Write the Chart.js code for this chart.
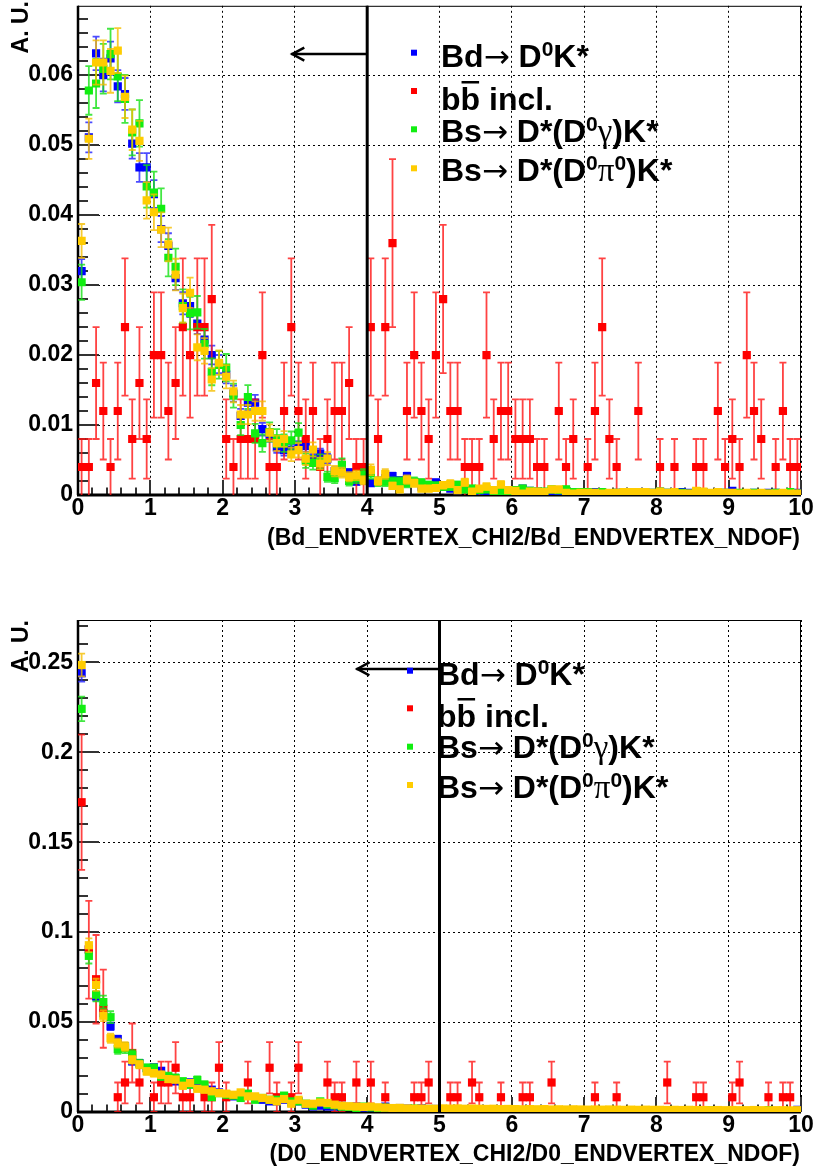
<!DOCTYPE html>
<html>
<head>
<meta charset="utf-8">
<script src="https://cdn.jsdelivr.net/npm/chart.js@4.4.1/dist/chart.umd.min.js"></script>
<style>
  html, body { margin: 0; padding: 0; background: #fff; }
  #wrap { position: relative; width: 815px; height: 1169px; }
  canvas { position: absolute; left: 0; }
</style>
</head>
<body>
<div id="wrap">
  <canvas id="vtxBd" width="815" height="584" style="top:0"></canvas>
  <canvas id="vtxD0" width="815" height="585" style="top:584px"></canvas>
</div>
<script>
// 100 bins of width 0.1 between 0 and 10
const BIN_W = 0.1;
const NBINS = 100;
const binCenters = Array.from({ length: NBINS }, (_, i) => +(BIN_W * (i + 0.5)).toFixed(2));

// Bd_ENDVERTEX_CHI2/NDOF, normalised
const bdChi2Bd = [
  .0320, .0511, .0631, .0600, .0624, .0584, .0573, .0502, .0468, .0468,
  .0430, .0380, .0356, .0310, .0274, .0270, .0245, .0222, .0200, .0187,
  .0172, .0145, .0113, .0132, .0132, .0094, .0085, .0068, .0064, .0065,
  .0069, .0070, .0052, .0059, .0052, .0034, .0033, .0032, .0019, .0021,
  .0017, .0019, .0024, .0027, .0021, .0027, .0018, .0012, .0013, .0018,
  .0012, .0009, .0007, .0009, .0007, .0006, .0006, .0005, .0006, .0005,
  .0005, .0009, .0006, .0005, .0004, .0005, .0006, .0003, .0003, .0004,
  .0004, .0004, .0003, .0002, .0003, .0004, .0003, .0004, .0003, .0003,
  .0005, .0003, .0002, .0004, .0003, .0003, .0004, .0002, .0003, .0003,
  .0006, .0002, .0002, .0003, .0002, .0003, .0003, .0002, .0002, .0003
];
const bdChi2Bb = [
  .004, .004, .016, .012, .004, .012, .024, .008, .016, .008,
  .020, .020, .012, .016, .024, .020, .024, .024, .028, 0,
  .008, .004, .008, .008, .008, .020, .004, .004, .012, .024,
  .012, .008, .012, .004, .008, .012, .012, .016, .004, .004,
  .024, .008, .024, .036, 0, .012, .020, .012, .008, .020,
  .028, .012, .012, .004, .004, .004, .020, .008, .012, .012,
  .008, .008, .008, .004, .004, 0, .012, .004, .008, 0,
  .004, .012, .024, .008, .004, 0, 0, .012, 0, 0,
  .004, 0, .004, 0, 0, .004, .004, 0, .012, .004,
  .008, .004, .020, .012, .008, 0, .004, .012, .004, .004
];
const bdChi2BsGam = [
  .0304, .0578, .0588, .0609, .0630, .0598, .0566, .0518, .0531, .0441,
  .0432, .0409, .0339, .0326, .0270, .0260, .0261, .0216, .0176, .0186,
  .0182, .0142, .0100, .0140, .0088, .0074, .0090, .0081, .0074, .0078,
  .0089, .0049, .0046, .0048, .0026, .0024, .0043, .0020, .0024, .0029,
  .0031, .0019, .0019, .0019, .0019, .0017, .0019, .0017, .0014, .0013,
  .0012, .0012, .0014, .0008, .0009, .0007, .0008, .0005, .0005, .0006,
  .0007, .0009, .0006, .0005, .0005, .0008, .0007, .0008, .0004, .0004,
  .0004, .0003, .0004, .0001, .0003, .0003, .0004, .0003, .0002, .0003,
  .0005, .0003, .0003, .0003, .0002, .0004, .0003, .0002, .0003, .0003,
  .0002, .0003, .0002, .0003, .0002, .0002, .0003, .0002, .0004, .0002
];
const bdChi2BsPi0 = [
  .0363, .0509, .0618, .0618, .0606, .0635, .0569, .0522, .0506, .0421,
  .0404, .0379, .0358, .0315, .0267, .0289, .0211, .0206, .0165, .0189,
  .0169, .0148, .0115, .0115, .0120, .0120, .0089, .0074, .0080, .0058,
  .0064, .0052, .0065, .0045, .0052, .0034, .0032, .0026, .0028, .0021,
  .0036, .0020, .0030, .0013, .0008, .0022, .0017, .0009, .0009, .0010,
  .0014, .0016, .0007, .0018, .0005, .0009, .0012, .0007, .0015, .0007,
  .0006, .0002, .0005, .0005, .0004, .0008, .0008, .0003, .0002, .0003,
  .0003, .0003, .0002, .0003, .0003, .0004, .0004, .0004, .0004, .0003,
  .0005, .0003, .0004, .0002, .0002, .0006, .0005, .0003, .0004, .0003,
  .0003, .0002, .0003, .0002, .0003, .0002, .0002, .0003, .0002, .0002
];

// D0_ENDVERTEX_CHI2/NDOF, normalised
const d0Chi2Bd = [
  .2439, .0905, .0643, .0550, .0476, .0405, .0364, .0281, .0272, .0244,
  .0248, .0229, .0180, .0170, .0152, .0165, .0142, .0128, .0124, .0109,
  .0096, .0087, .0087, .0096, .0078, .0068, .0059, .0059, .0068, .0053,
  .0059, .0041, .0031, .0035, .0031, .0031, .0035, .0028, .0030, .0024,
  .0026, .0022, .0030, .0020, .0022, .0019, .0016, .0020, .0015, .0017,
  .0015, .0014, .0013, .0014, .0012, .0011, .0013, .0010, .0011, .0010,
  .0009, .0010, .0009, .0010, .0008, .0009, .0008, .0009, .0008, .0007,
  .0008, .0007, .0008, .0007, .0006, .0007, .0006, .0007, .0006, .0006,
  .0006, .0005, .0006, .0005, .0005, .0006, .0005, .0004, .0005, .0004,
  .0005, .0004, .0004, .0005, .0004, .0004, .0004, .0003, .0004, .0012
];
const d0Chi2Bb = [
  .1722, .0902, .0738, .0574, 0, .0082, .0164, .0328, .0164, 0,
  .0082, .0164, .0164, .0246, .0082, .0082, 0, .0082, .0082, .0246,
  .0082, 0, 0, .0164, 0, 0, .0246, .0082, 0, .0082,
  .0246, 0, 0, 0, .0164, .0082, .0082, 0, .0164, 0,
  .0164, 0, .0082, 0, 0, 0, .0082, .0082, .0164, 0,
  0, .0082, .0082, 0, .0164, .0082, 0, 0, .0082, 0,
  0, .0082, .0082, 0, 0, .0164, 0, 0, 0, 0,
  0, .0082, 0, 0, .0082, 0, 0, 0, 0, 0,
  0, .0164, 0, 0, 0, .0082, .0082, 0, 0, 0,
  .0082, .0164, 0, 0, 0, .0082, 0, .0082, .0082, 0
];
const d0Chi2BsGam = [
  .2241, .0868, .0652, .0611, .0527, .0350, .0355, .0318, .0268, .0244,
  .0244, .0198, .0198, .0189, .0170, .0152, .0178, .0152, .0083, .0105,
  .0096, .0091, .0078, .0102, .0068, .0078, .0068, .0068, .0091, .0059,
  .0059, .0046, .0035, .0059, .0041, .0037, .0030, .0028, .0022, .0030,
  .0026, .0020, .0024, .0019, .0021, .0016, .0019, .0015, .0017, .0014,
  .0016, .0012, .0015, .0011, .0013, .0014, .0010, .0012, .0010, .0012,
  .0009, .0010, .0008, .0011, .0008, .0009, .0006, .0009, .0007, .0008,
  .0006, .0007, .0006, .0008, .0006, .0005, .0007, .0006, .0005, .0006,
  .0005, .0006, .0004, .0005, .0006, .0004, .0005, .0010, .0004, .0005,
  .0004, .0005, .0004, .0004, .0003, .0010, .0004, .0003, .0004, .0003
];
const d0Chi2BsPi0 = [
  .2485, .0927, .0707, .0535, .0410, .0383, .0364, .0290, .0263, .0226,
  .0216, .0207, .0183, .0180, .0146, .0161, .0129, .0124, .0115, .0105,
  .0102, .0096, .0109, .0087, .0087, .0078, .0068, .0059, .0072, .0046,
  .0068, .0046, .0046, .0053, .0050, .0041, .0035, .0032, .0030, .0028,
  .0030, .0026, .0024, .0022, .0023, .0020, .0018, .0019, .0017, .0018,
  .0020, .0019, .0020, .0018, .0019, .0018, .0017, .0018, .0016, .0017,
  .0016, .0015, .0016, .0015, .0016, .0014, .0015, .0014, .0015, .0014,
  .0013, .0014, .0013, .0014, .0013, .0012, .0013, .0012, .0013, .0012,
  .0012, .0011, .0012, .0011, .0012, .0011, .0011, .0010, .0011, .0010,
  .0011, .0010, .0010, .0011, .0010, .0009, .0010, .0010, .0009, .0010
];

// events behind each normalised histogram (for the poisson error bars)
const nEvtBd = 11000;
const nEvtBsGam = 4800;
const nEvtBsPi0 = 6200;
const nEvtBbVtx = 250;
const nEvtBbD0 = 122;

// cut positions
const cutBdVtx = 4, arrowBdVtx = [2.95, 0.063];
const cutD0Vtx = 5, arrowD0Vtx = [3.85, 0.2463];

const colBd = '#0000ff', colBb = '#ff0000', colBsGam = '#11ee11', colBsPi0 = '#ffcc00';
const errBd = 'rgba(30,30,255,0.8)', errBb = 'rgba(255,20,20,0.8)';
const errBsGam = 'rgba(20,225,20,0.8)', errBsPi0 = 'rgba(245,190,0,0.8)';

const FONT = '"Liberation Sans", Arial, Helvetica, sans-serif';
const F_BIG = 'bold 32px ' + FONT;
const F_SUP = 'bold 21px ' + FONT;
const F_ARR = '31px "DejaVu Sans", sans-serif';
const F_GRK = '33px "Liberation Serif", serif';

function series(label, vals, nEvt, color, errColor, order) {
  const pts = vals.map((v, i) => ({ x: binCenters[i], y: v, e: Math.sqrt(v / nEvt) }))
    .filter(p => p.y > 0);
  return {
    label, order, data: pts,
    backgroundColor: color, borderWidth: 0,
    pointStyle: 'rect', pointRadius: 5.8, pointBorderWidth: 0,
    showLine: false, errColor
  };
}

// legend entries, marker colour + rich text pieces
const legendRows = [
  { color: colBd, parts: [
    { t: 'Bd', f: F_BIG }, { t: '\u2192', f: F_ARR }, { t: ' D', f: F_BIG },
    { t: '0', f: F_SUP, up: 11 }, { t: 'K*', f: F_BIG }] },
  { color: colBb, parts: [
    { t: 'b', f: F_BIG }, { t: 'b', f: F_BIG, bar: 29 }, { t: ' incl.', f: F_BIG }] },
  { color: colBsGam, parts: [
    { t: 'Bs', f: F_BIG }, { t: '\u2192', f: F_ARR }, { t: ' D*(D', f: F_BIG },
    { t: '0', f: F_SUP, up: 11 }, { t: '\u03b3', f: F_GRK }, { t: ')K*', f: F_BIG }] },
  { color: colBsPi0, parts: [
    { t: 'Bs', f: F_BIG }, { t: '\u2192', f: F_ARR }, { t: ' D*(D', f: F_BIG },
    { t: '0', f: F_SUP, up: 11 }, { t: '\u03c0', f: F_GRK },
    { t: '0', f: F_SUP, up: 11 }, { t: ')K*', f: F_BIG }] }
];

function drawRich(ctx, x, y, parts) {
  ctx.textAlign = 'left';
  ctx.textBaseline = 'alphabetic';
  for (const p of parts) {
    ctx.font = p.f;
    const w = ctx.measureText(p.t).width;
    ctx.fillText(p.t, x, y - (p.up || 0));
    if (p.bar) ctx.fillRect(x + 1, y - p.bar, w - 2, 2.5);
    x += w;
  }
}

const errorBars = {
  id: 'errorBars',
  beforeDatasetDraw(chart, args) {
    const ds = chart.data.datasets[args.index];
    const { ctx, chartArea: a, scales: { y } } = chart;
    ctx.save();
    ctx.beginPath();
    ctx.rect(a.left, a.top, a.right - a.left, a.bottom - a.top);
    ctx.clip();
    ctx.strokeStyle = ds.errColor;
    ctx.lineWidth = 1.8;
    args.meta.data.forEach((el, i) => {
      const d = ds.data[i];
      const hi = y.getPixelForValue(d.y + d.e);
      const lo = y.getPixelForValue(Math.max(0, d.y - d.e));
      ctx.beginPath();
      ctx.moveTo(el.x, lo); ctx.lineTo(el.x, hi);
      ctx.moveTo(el.x - 3.5, hi); ctx.lineTo(el.x + 3.5, hi);
      if (d.y - d.e > 0) { ctx.moveTo(el.x - 3.5, lo); ctx.lineTo(el.x + 3.5, lo); }
      ctx.stroke();
    });
    ctx.restore();
  }
};

// frame with inward ticks like the ROOT canvas
const rootFrame = {
  id: 'rootFrame',
  beforeDatasetsDraw(chart, args, o) {
    const { ctx, chartArea: a, scales: { x, y } } = chart;
    ctx.save();
    ctx.strokeStyle = '#000';
    ctx.lineWidth = 1;
    ctx.strokeRect(a.left + 0.5, a.top + 0.5, a.right - a.left - 1, a.bottom - a.top);
    ctx.strokeStyle = '#333';
    ctx.lineWidth = 2;
    const ny = Math.floor(y.max / o.yMinor + 1e-6);
    for (let i = 0; i <= ny; i++) {
      const py = Math.round(y.getPixelForValue(i * o.yMinor));
      const len = i % 5 === 0 ? 21 : 10;
      ctx.beginPath(); ctx.moveTo(a.left, py); ctx.lineTo(a.left + len, py); ctx.stroke();
    }
    for (let i = 0; i <= 50; i++) {
      const px = Math.round(x.getPixelForValue(i * 0.2));
      const len = i % 5 === 0 ? 15 : 7.5;
      ctx.beginPath(); ctx.moveTo(px, a.bottom); ctx.lineTo(px, a.bottom - len); ctx.stroke();
    }
    ctx.strokeStyle = '#000';
    ctx.lineWidth = 2.5;
    ctx.beginPath(); ctx.moveTo(a.left, a.top); ctx.lineTo(a.left, a.bottom); ctx.stroke();
    ctx.lineWidth = 3;
    ctx.beginPath(); ctx.moveTo(a.left - 1, a.bottom); ctx.lineTo(a.right, a.bottom); ctx.stroke();
    ctx.restore();
  },
  afterDatasetsDraw(chart, args, o) {
    // cut line with arrow towards the accepted side
    const { ctx, chartArea: a, scales: { x, y } } = chart;
    const cx = x.getPixelForValue(o.cut);
    const ax = x.getPixelForValue(o.arrow[0]);
    const ay = y.getPixelForValue(o.arrow[1]);
    ctx.save();
    ctx.strokeStyle = '#000';
    ctx.lineWidth = 3;
    ctx.beginPath(); ctx.moveTo(cx, y.getPixelForValue(0)); ctx.lineTo(cx, a.top); ctx.stroke();
    ctx.lineWidth = 2.5;
    ctx.beginPath(); ctx.moveTo(cx, ay); ctx.lineTo(ax, ay); ctx.stroke();
    ctx.beginPath();
    ctx.moveTo(ax + 13, ay - 6.5); ctx.lineTo(ax + 1, ay); ctx.lineTo(ax + 13, ay + 6.5);
    ctx.stroke();
    ctx.restore();
  },
  afterDraw(chart, args, o) {
    const { ctx } = chart;
    ctx.save();
    ctx.fillStyle = '#000';
    legendRows.forEach((row, i) => {
      ctx.fillStyle = row.color;
      ctx.fillRect(o.legX - 3, o.legMarkY[i] - 3, 6, 6);
      ctx.fillStyle = '#000';
      drawRich(ctx, o.legTextX, o.legBase[i], row.parts);
    });
    ctx.font = 'bold 23px ' + FONT;
    ctx.textAlign = 'right';
    ctx.textBaseline = 'alphabetic';
    ctx.fillText(o.xTitle, 800, o.xTitleY);
    ctx.translate(28, 0);
    ctx.rotate(-Math.PI / 2);
    ctx.fillText('A. U.', -o.auTop, 0);
    ctx.restore();
  }
};

function makePanel(id, p) {
  const tickFont = { family: FONT, weight: 'bold', size: 23, lineHeight: 1 };
  return new Chart(document.getElementById(id), {
    type: 'scatter',
    data: { datasets: p.datasets },
    plugins: [errorBars, rootFrame],
    options: {
      responsive: false,
      devicePixelRatio: 1,
      animation: false,
      events: [],
      layout: { padding: { top: p.padTop, right: 14, left: 0, bottom: 0 } },
      plugins: {
        legend: { display: false },
        tooltip: { enabled: false },
        rootFrame: p.frame
      },
      scales: {
        x: {
          type: 'linear', min: 0, max: 10,
          afterFit: s => { s.height = p.xAxisH; s.paddingLeft = 0; s.paddingRight = 0; },
          grid: { color: '#000', lineWidth: 1, drawTicks: false },
          border: { display: false, dash: [2, 3] },
          ticks: { stepSize: 1, padding: 2, color: '#000', font: tickFont, maxRotation: 0, autoSkip: false }
        },
        y: {
          type: 'linear', min: 0, max: p.yMax,
          afterFit: s => { s.width = 78; s.paddingTop = 0; s.paddingBottom = 0; },
          grid: { color: '#000', lineWidth: 1, drawTicks: false },
          border: { display: false, dash: [2, 3] },
          ticks: {
            stepSize: p.yStep, includeBounds: false, padding: 5, color: '#000', font: tickFont,
            callback: v => String(Math.round(v * 100) / 100)
          }
        }
      }
    }
  });
}

makePanel('vtxBd', {
  padTop: 3, xAxisH: 89, yMax: 0.0699, yStep: 0.01,
  datasets: [
    series('Bd', bdChi2Bd, nEvtBd, colBd, errBd, 4),
    series('bb', bdChi2Bb, nEvtBbVtx, colBb, errBb, 3),
    series('BsGam', bdChi2BsGam, nEvtBsGam, colBsGam, errBsGam, 2),
    series('BsPi0', bdChi2BsPi0, nEvtBsPi0, colBsPi0, errBsPi0, 1)
  ],
  frame: {
    yMinor: 0.002, cut: cutBdVtx, arrow: arrowBdVtx,
    legX: 414, legMarkY: [52.7, 91, 129.3, 168.3], legTextX: 441, legBase: [67, 110, 142, 181],
    xTitle: '(Bd_ENDVERTEX_CHI2/Bd_ENDVERTEX_NDOF)', xTitleY: 545, auTop: 1
  }
});

makePanel('vtxD0', {
  padTop: 36, xAxisH: 57, yMax: 0.2735, yStep: 0.05,
  datasets: [
    series('Bd', d0Chi2Bd, nEvtBd, colBd, errBd, 4),
    series('bb', d0Chi2Bb, nEvtBbD0, colBb, errBb, 3),
    series('BsGam', d0Chi2BsGam, nEvtBsGam, colBsGam, errBsGam, 2),
    series('BsPi0', d0Chi2BsPi0, nEvtBsPi0, colBsPi0, errBsPi0, 1)
  ],
  frame: {
    yMinor: 0.01, cut: cutD0Vtx, arrow: arrowD0Vtx,
    legX: 410, legMarkY: [86.7, 124.3, 162.7, 201], legTextX: 437, legBase: [101, 143, 174, 214],
    xTitle: '(D0_ENDVERTEX_CHI2/D0_ENDVERTEX_NDOF)', xTitleY: 577, auTop: 36
  }
});
</script>
</body>
</html>
